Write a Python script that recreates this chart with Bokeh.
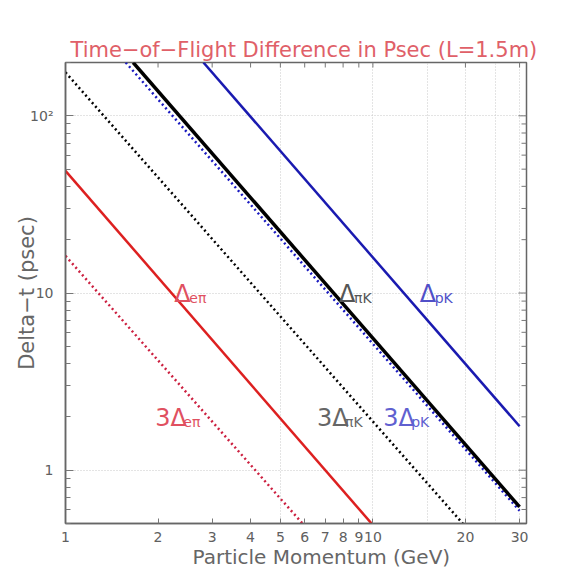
import math
from bokeh.plotting import figure
from bokeh.models import FixedTicker, Title, ColumnDataSource
from bokeh.core.properties import value
from bokeh.embed import file_html
from bokeh.resources import INLINE

FONT = "DejaVu Sans"

# ---- data (momentum in GeV, delta-t in ps) ----
p_e_pi = [1.0, 10.0]
dt_e_pi = [48.9, 0.49]
p_e_pi3 = [1.0, 5.9]
dt_e_pi3 = [16.2, 0.5]
p_pi_k = [1.66, 30.0]
dt_pi_k = [200.0, 0.62]
p_pi_k3 = [1.0, 19.6]
dt_pi_k3 = [176.0, 0.5]
p_p_k = [2.81, 30.0]
dt_p_k = [200.0, 1.77]
p_p_k3 = [1.57, 30.0]
dt_p_k3 = [200.0, 0.59]

x_ticks = [1, 2, 3, 4, 5, 6, 7, 8, 9, 10, 20, 30]
y_ticks = [1, 10, 100]
y_minor = [0.5, 0.6, 0.7, 0.8, 0.9, 2, 3, 4, 5, 6, 7, 8, 9,
           20, 30, 40, 50, 60, 70, 80, 90, 200]
x_grid = [5, 10, 15, 20, 25, 30]
y_grid = [1, 10, 100]

label_main = ["Δ", "3Δ", "Δ", "3Δ", "Δ", "3Δ"]
label_sub = ["eπ", "eπ", "πK", "πK", "pK", "pK"]
label_p = [2.26, 1.96, 7.76, 6.58, 14.2, 10.8]
label_dt = [9.87, 1.97, 9.87, 1.97, 9.87, 1.97]
label_color = ["#e05060", "#e05060", "#555555", "#666666", "#5050c8", "#6060d0"]
sub_dx = [15, 28, 15, 28, 15, 28]

X_MIN, X_MAX = 1, 31.6
Y_MIN, Y_MAX = 0.5, 200

p = figure(x_axis_type="log", y_axis_type="log",
           x_range=(X_MIN, X_MAX), y_range=(Y_MIN, Y_MAX),
           frame_width=461, frame_height=461,
           min_border_left=65, min_border_top=62,
           min_border_right=40, min_border_bottom=46,
           toolbar_location=None, output_backend="svg",
           background_fill_color="white", border_fill_color="white")
p.outline_line_color = "#666666"
p.outline_line_width = 1.5

p.title.text = "Time−of−Flight Difference in Psec (L=1.5m)"
p.title.align = "left"
p.title.offset = 5
p.title.standoff = 2
p.title.text_color = "#e06068"
p.title.text_font = FONT
p.title.text_font_size = "21px"
p.title.text_font_style = "normal"

xt = FixedTicker(ticks=x_ticks, minor_ticks=[])
yt = FixedTicker(ticks=y_ticks, minor_ticks=y_minor)

for ax in p.xaxis:
    ax.ticker = xt
    ax.major_label_overrides = {t: str(t) for t in x_ticks}
    ax.major_label_standoff = 8
    ax.major_tick_in = 5
for ax in p.yaxis:
    ax.ticker = yt
    ax.major_label_overrides = {1: "1", 10: "10", 100: "10²"}
    ax.major_label_standoff = 12
    ax.major_tick_in = 8
    ax.axis_label = "Delta−t (psec)"
    ax.axis_label_standoff = -12
    ax.axis_label_text_color = "#666666"
    ax.axis_label_text_font = FONT
    ax.axis_label_text_font_size = "21px"
    ax.axis_label_text_font_style = "normal"

for ax in list(p.xaxis) + list(p.yaxis):
    ax.axis_line_color = "#666666"
    ax.axis_line_width = 1.5
    ax.major_tick_line_color = "#777777"
    ax.minor_tick_line_color = "#777777"
    ax.major_tick_out = 0
    ax.minor_tick_in = 5
    ax.minor_tick_out = 0
    ax.major_label_text_color = "#606060"
    ax.major_label_text_font = FONT
    ax.major_label_text_font_size = "14px"

xlab = Title(text="Particle Momentum (GeV)", align="left", offset=127, standoff=-4,
             text_color="#666666", text_font=FONT, text_font_size="20px",
             text_font_style="normal")
p.add_layout(xlab, "below")

p.xgrid.ticker = FixedTicker(ticks=x_grid, minor_ticks=[])
p.ygrid.ticker = FixedTicker(ticks=y_grid, minor_ticks=[])
for g in (p.xgrid[0], p.ygrid[0]):
    g.grid_line_color = "#c8c8c8"
    g.grid_line_dash = "1 2"
    g.grid_line_width = 1

# mirrored ticks on top and right edges (half of each dash is clipped by the frame)
p.scatter(x=x_ticks, y=[Y_MAX] * len(x_ticks), marker="dash", size=10,
          angle=math.pi / 2, line_color="#777777", line_width=1)
p.scatter(x=[X_MAX] * len(y_ticks), y=y_ticks, marker="dash", size=16,
          line_color="#777777", line_width=1)
p.scatter(x=[X_MAX] * len(y_minor), y=y_minor, marker="dash", size=10,
          line_color="#777777", line_width=1)

# lines
p.line(p_e_pi, dt_e_pi, line_color="#dd2020", line_width=2.5)
p.line(p_e_pi3, dt_e_pi3, line_color="#cc2040", line_width=2.5, line_dash="2 3")
p.line(p_pi_k3, dt_pi_k3, line_color="#000000", line_width=2.5, line_dash="2 3")
p.line(p_p_k3, dt_p_k3, line_color="#1a1ac0", line_width=2.5, line_dash="2 3")
p.line(p_pi_k, dt_pi_k, line_color="#000000", line_width=3.5)
p.line(p_p_k, dt_p_k, line_color="#1a1ab0", line_width=2.5)

src = ColumnDataSource(dict(x=label_p, y=label_dt, main=label_main, sub=label_sub,
                            color=label_color, dx=sub_dx))
p.text(x="x", y="y", text="main", text_color="color", source=src,
       text_font=value(FONT), text_font_size="24px", text_baseline="alphabetic",
       text_align="left")
p.text(x="x", y="y", text="sub", text_color="color", source=src, x_offset="dx",
       y_offset=4, text_font=value(FONT), text_font_size="14px",
       text_baseline="alphabetic", text_align="left")

open("out.html", "w").write(file_html(p, INLINE))
